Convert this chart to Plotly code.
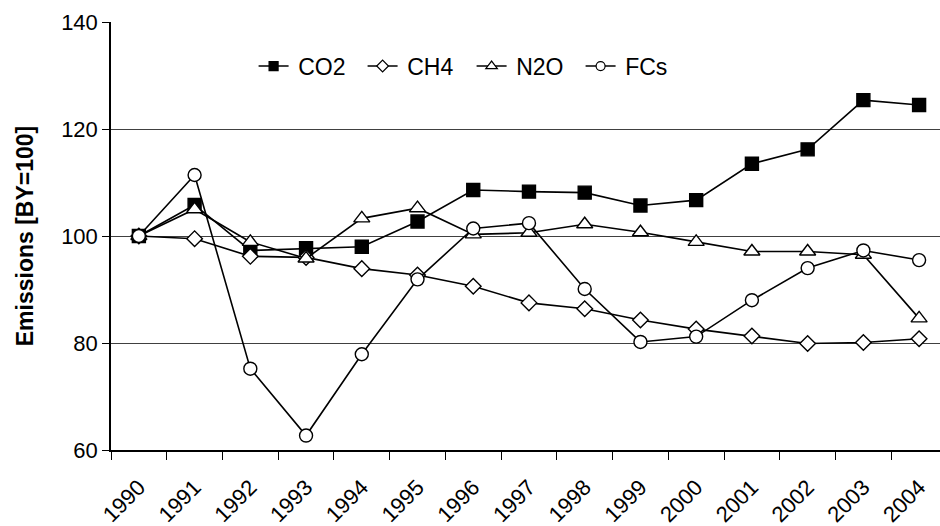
import plotly.graph_objects as go

years = ["1990", "1991", "1992", "1993", "1994", "1995", "1996", "1997",
         "1998", "1999", "2000", "2001", "2002", "2003", "2004"]
co2 = [100, 105.8, 97.3, 97.7, 98.0, 102.7, 108.6, 108.3, 108.1, 105.7,
       106.7, 113.5, 116.2, 125.4, 124.5]
ch4 = [100, 99.5, 96.2, 96.0, 93.9, 92.7, 90.6, 87.5, 86.4, 84.3,
       82.6, 81.3, 79.9, 80.1, 80.8]
n2o = [100, 105.0, 98.9, 95.8, 103.3, 105.2, 100.3, 100.6, 102.2, 100.7,
       98.9, 97.1, 97.1, 96.5, 84.6]
fcs = [100, 111.4, 75.2, 62.7, 77.9, 91.9, 101.4, 102.4, 90.1, 80.2,
       81.2, 88.0, 94.0, 97.3, 95.5]
names = ["CO2", "CH4", "N2O", "FCs"]
symbols = ["square", "diamond", "triangle-up", "circle"]
fills = ["black", "white", "white", "white"]
sizes = [13, 12, 14, 13]
legend_sizes = [9, 9, 10, 9]

FONT = "Liberation Sans, Arial, sans-serif"
fig = go.Figure()
for name, vals, sym, fc, sz in zip(names, [co2, ch4, n2o, fcs], symbols, fills, sizes):
    fig.add_trace(go.Scatter(
        x=years, y=vals, name=name, mode="lines+markers", showlegend=False,
        line=dict(color="black", width=1.6),
        marker=dict(symbol=sym, size=sz, color=fc,
                    line=dict(color="black", width=1.4)),
    ))
# legend entries (smaller symbols as in the reference)
for name, sym, fc, sz in zip(names, symbols, fills, legend_sizes):
    fig.add_trace(go.Scatter(
        x=[None], y=[None], name="\u2009" + name, mode="lines+markers",
        line=dict(color="black", width=1.4),
        marker=dict(symbol=sym, size=sz, color=fc,
                    line=dict(color="black", width=1.2)),
    ))

fig.update_layout(
    width=940, height=526,
    margin=dict(l=111, r=0, t=22, b=76),
    paper_bgcolor="white", plot_bgcolor="white",
    font=dict(family=FONT, size=22, color="black"),
    showlegend=True,
    legend=dict(orientation="h", x=0.172, y=0.897, xanchor="left", yanchor="middle",
                bgcolor="rgba(0,0,0,0)", font=dict(size=23),
                entrywidth=64, entrywidthmode="pixels", tracegroupgap=0),
    xaxis=dict(type="category", range=[-0.5, 14.375], tickson="boundaries",
               ticks="outside", ticklen=8, tickcolor="black", tickwidth=1,
               showline=True, linecolor="black", linewidth=1.5,
               showgrid=False, tickangle=-45, automargin=False,
               ticklabelstandoff=14,
               tickfont=dict(size=22)),
    yaxis=dict(range=[60, 140], tickvals=[60, 80, 100, 120, 140],
               ticks="outside", ticklen=7, tickcolor="black",
               showline=True, linecolor="black", linewidth=1.5,
               showgrid=True, gridcolor="#404040", gridwidth=1,
               zeroline=False, tickfont=dict(size=22), automargin=False,
               title=dict(text="<b>Emissions [BY=100]</b>", font=dict(size=23), standoff=21)),
)

fig.write_html("out.html", config={"displayModeBar": False},
               post_script="document.body.style.margin='0';document.body.style.padding='0';document.body.style.overflow='hidden';")
